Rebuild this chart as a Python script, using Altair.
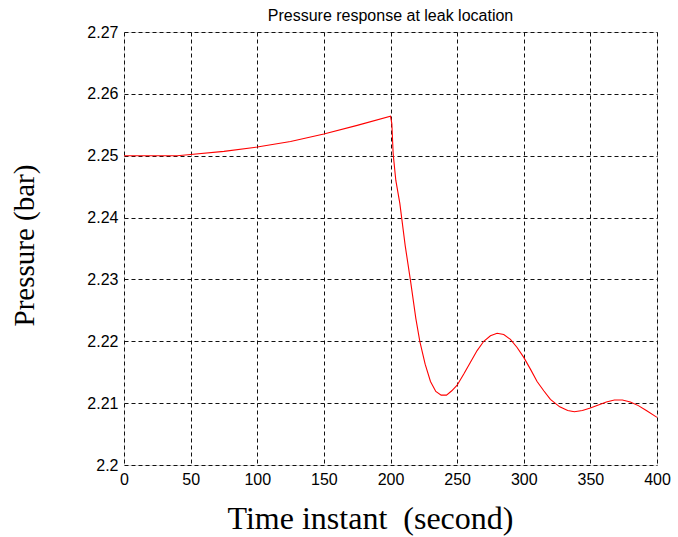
import altair as alt
import pandas as pd

# Simulated pressure at the leak node (bar) versus time (s)
time_s = [0, 40, 50, 75, 100, 125, 150, 175, 200, 201, 202, 204, 207, 211, 215,
          219, 222, 226, 230, 234, 238, 242, 246, 250, 255, 260, 265, 270, 275,
          280, 285, 290, 295, 300, 305, 310, 315, 320, 327, 333, 338, 344, 350,
          356, 362, 368, 374, 380, 386, 392, 400]
pressure_bar = [2.2500, 2.2500, 2.2502, 2.2507, 2.2514, 2.2523, 2.2535, 2.2549,
                2.2564, 2.2552, 2.2503, 2.2460, 2.2423, 2.2355, 2.2298, 2.2237,
                2.2200, 2.2163, 2.2135, 2.2119, 2.2113, 2.2113, 2.2120, 2.2129,
                2.2147, 2.2166, 2.2185, 2.2200, 2.2209, 2.2213, 2.2211, 2.2203,
                2.2190, 2.2174, 2.2155, 2.2135, 2.2120, 2.2106, 2.2094, 2.2088,
                2.2086, 2.2088, 2.2092, 2.2097, 2.2102, 2.2105, 2.2105, 2.2102,
                2.2096, 2.2088, 2.2077]

x_ticks = [0, 50, 100, 150, 200, 250, 300, 350, 400]
y_ticks = [2.2, 2.21, 2.22, 2.23, 2.24, 2.25, 2.26, 2.27]

df = pd.DataFrame({"t": time_s, "p": pressure_bar})

grid_style = dict(grid=True, gridColor="#111111", gridDash=[4, 3], gridWidth=1,
                  gridOpacity=1, ticks=False, domain=False, labelFlush=False)

chart = alt.Chart(df).mark_line(color="#ff0000", strokeWidth=1.1).encode(
    x=alt.X("t:Q",
            scale=alt.Scale(domain=[0, 400], nice=False, zero=False),
            axis=alt.Axis(values=x_ticks, format="d",
                          title="Time instant \u00a0(second)",
                          titleFont="Liberation Serif", titleFontSize=32,
                          titleFontWeight="normal", titleColor="black",
                          titleX=246, titleY=63, titleBaseline="alphabetic",
                          titleAlign="center",
                          labelFont="Liberation Sans", labelFontSize=16,
                          labelColor="black", labelPadding=6,
                          **grid_style)),
    y=alt.Y("p:Q",
            scale=alt.Scale(domain=[2.2, 2.27], nice=False, zero=False),
            axis=alt.Axis(values=y_ticks, format=".2~f",
                          title="Pressure (bar)",
                          titleFont="Liberation Serif", titleFontSize=29,
                          titleFontWeight="normal", titleColor="black",
                          titleX=-91, titleY=213, titleBaseline="alphabetic",
                          titleAlign="center", titleAngle=270,
                          labelFont="Liberation Sans", labelFontSize=16,
                          labelColor="black", labelPadding=6,
                          **grid_style)),
).properties(
    width=533,
    height=433,
    title=alt.TitleParams("Pressure response at leak location",
                          font="Liberation Sans", fontSize=16,
                          fontWeight="normal", color="black",
                          anchor="middle", baseline="alphabetic",
                          frame="group", offset=9, dy=22),
    autosize=alt.AutoSizeParams(type="none"),
    padding={"left": 124, "top": 32, "right": 21, "bottom": 72},
).configure_view(
    stroke="black", strokeWidth=1
).configure(background="white")

chart.save("out.html", embed_options={"renderer": "svg", "actions": False})
